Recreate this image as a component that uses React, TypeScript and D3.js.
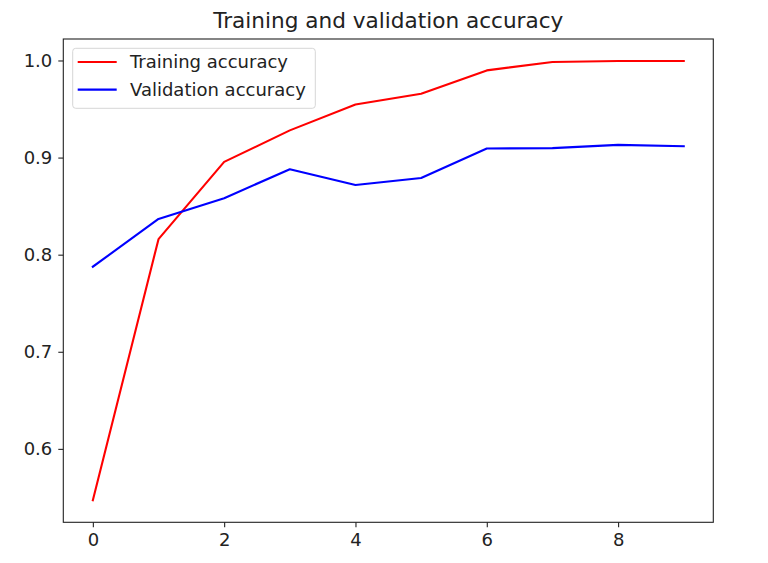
import React, { useEffect, useRef } from "react";
import * as d3 from "d3";

const epochs = [0, 1, 2, 3, 4, 5, 6, 7, 8, 9];
const trainingAccuracy = [0.547, 0.816, 0.8956, 0.928, 0.9547, 0.9657, 0.9898, 0.9985, 0.9995, 0.9995];
const validationAccuracy = [0.7876, 0.8368, 0.8582, 0.888, 0.8718, 0.879, 0.9093, 0.9097, 0.9131, 0.9117];
const xTicks = [0, 2, 4, 6, 8];
const yTicks = [0.6, 0.7, 0.8, 0.9, 1.0];
const seriesNames = ["Training accuracy", "Validation accuracy"];
const seriesColors = ["#ff0000", "#0000ff"];
const titleText = "Training and validation accuracy";

const W = 768;
const H = 563;
const M = { left: 63.3, right: 713.3, top: 39, bottom: 522.3 };
const FONT = "'DejaVu Sans', sans-serif";
const FS = 18;

export default function App() {
  const ref = useRef<SVGSVGElement | null>(null);

  useEffect(() => {
    const svg = d3.select(ref.current);
    svg.selectAll("*").remove();

    const xMin = d3.min(epochs)!;
    const xMax = d3.max(epochs)!;
    const xPad = (xMax - xMin) * 0.05;
    const allY = trainingAccuracy.concat(validationAccuracy);
    const yMin = d3.min(allY)!;
    const yMax = d3.max(allY)!;
    const yPad = (yMax - yMin) * 0.05;

    const x = d3.scaleLinear().domain([xMin - xPad, xMax + xPad]).range([M.left, M.right]);
    const y = d3.scaleLinear().domain([yMin - yPad, yMax + yPad]).range([M.bottom, M.top]);

    svg.append("rect").attr("width", W).attr("height", H).attr("fill", "#fff");

    const g = svg.append("g");

    const series = [trainingAccuracy, validationAccuracy];
    series.forEach((vals, i) => {
      const line = d3
        .line<number>()
        .x((_, j) => x(epochs[j]))
        .y((d) => y(d));
      g.append("path")
        .attr("d", line(vals))
        .attr("fill", "none")
        .attr("stroke", seriesColors[i])
        .attr("stroke-width", 2.1)
        .attr("stroke-linejoin", "round")
        .attr("stroke-linecap", "square");
    });

    const xAxis = d3
      .axisBottom(x)
      .tickValues(xTicks)
      .tickFormat(d3.format("d"))
      .tickSize(5)
      .tickPadding(6);
    const xg = g.append("g").attr("transform", `translate(0,${M.bottom})`).call(xAxis);
    xg.select(".domain").remove();
    xg.selectAll("line").attr("stroke", "#222").attr("stroke-width", 1.1);
    xg.selectAll("text").attr("font-family", FONT).attr("font-size", FS).attr("fill", "#222");

    const yAxis = d3
      .axisLeft(y)
      .tickValues(yTicks)
      .tickFormat(d3.format(".1f"))
      .tickSize(5)
      .tickPadding(6);
    const yg = g.append("g").attr("transform", `translate(${M.left},0)`).call(yAxis);
    yg.select(".domain").remove();
    yg.selectAll("line").attr("stroke", "#222").attr("stroke-width", 1.1);
    yg.selectAll("text").attr("font-family", FONT).attr("font-size", FS).attr("fill", "#222");

    g.append("rect")
      .attr("x", M.left)
      .attr("y", M.top)
      .attr("width", M.right - M.left)
      .attr("height", M.bottom - M.top)
      .attr("fill", "none")
      .attr("stroke", "#222")
      .attr("stroke-width", 1.1);

    svg
      .append("text")
      .attr("x", (M.left + M.right) / 2)
      .attr("y", 28)
      .attr("text-anchor", "middle")
      .attr("font-family", FONT)
      .attr("font-size", FS * 1.2)
      .attr("fill", "#222")
      .text(titleText);

    const lg = svg.append("g");
    lg.append("rect")
      .attr("x", 72.7)
      .attr("y", 48.3)
      .attr("width", 242.6)
      .attr("height", 60)
      .attr("rx", 3)
      .attr("fill", "#fff")
      .attr("fill-opacity", 0.8)
      .attr("stroke", "#d6d6d6")
      .attr("stroke-width", 1);
    seriesNames.forEach((name, i) => {
      const yy = 62 + i * 27.6;
      lg.append("line")
        .attr("x1", 77.7)
        .attr("x2", 116.7)
        .attr("y1", yy)
        .attr("y2", yy)
        .attr("stroke", seriesColors[i])
        .attr("stroke-width", 2.1);
      lg.append("text")
        .attr("x", 130)
        .attr("y", yy)
        .attr("dy", "0.35em")
        .attr("font-family", FONT)
        .attr("font-size", FS)
        .attr("fill", "#222")
        .text(name);
    });
  }, []);

  return (
    <svg
      ref={ref}
      width={W}
      height={H}
      style={{ position: "absolute", left: 0, top: 0, display: "block" }}
    />
  );
}
